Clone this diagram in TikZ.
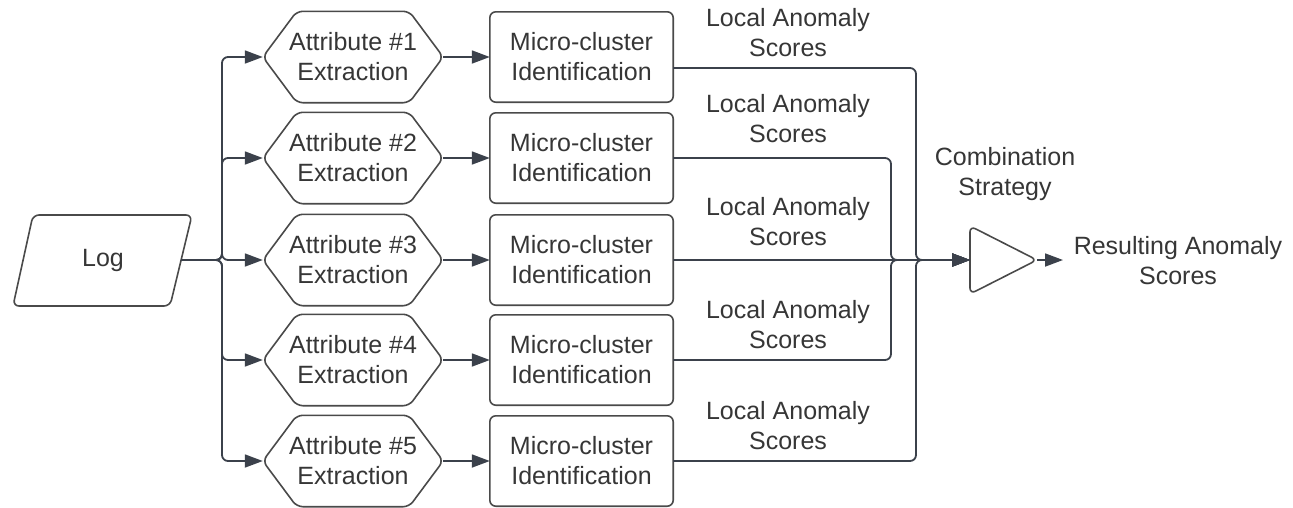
\documentclass[tikz,border=0pt]{standalone}
\usepackage{fontspec}
\setmainfont{Liberation Sans}
\usetikzlibrary{arrows.meta,calc}
\definecolor{linec}{HTML}{3B414B}
\definecolor{txtc}{HTML}{363636}
\definecolor{shapec}{HTML}{4A4A4A}
\tikzset{
  lbl/.style={font=\fontsize{25}{30}\selectfont, text=txtc, align=center, inner sep=0pt},
  shp/.style={draw=shapec, line width=1.6pt, rounded corners=6pt, line join=round},
  conn/.style={draw=linec, line width=1.8pt, rounded corners=6pt, -{Triangle[length=18pt,width=13pt]}},
  box/.style={lbl, minimum width=183pt, minimum height=90pt}
}
\begin{document}
\begin{tikzpicture}[x=1pt,y=-1pt]
\useasboundingbox (0,0) rectangle (1293,507);
% Log
\node[lbl, minimum width=150pt, minimum height=91pt] (log) at (103,260) {Log};
\draw[shp] (33,215) -- (192,215) -- (170,306) -- (13,306) -- cycle;
\coordinate (logE) at (181,260);
\coordinate (bx) at (222,260);
% rows
\foreach \i/\y in {1/57,2/158,3/260,4/360,5/461}{
  \node[box, minimum width=180pt, minimum height=91pt] (h\i) at (353,\y) {Attribute \#\i\\Extraction};
  \draw[shp] (h\i.west) -- ([xshift=34pt]h\i.north west) -- ([xshift=-34pt]h\i.north east)
     -- (h\i.east) -- ([xshift=-34pt]h\i.south east) -- ([xshift=34pt]h\i.south west) -- cycle;
  \node[box] (m\i) at (581.5,\y) {Micro-cluster\\Identification};
  \draw[shp] (m\i.north west) rectangle (m\i.south east);
  \draw[conn] (logE) -- (bx) |- (h\i.west);
  \draw[conn] (h\i.east) -- (m\i.west);
}
% labels
\foreach \y [count=\k] in {33,118.5,222,325,426}{
  \node[lbl] (la\k) at (788,\y) {Local Anomaly\\Scores};
}
% combination
\node[lbl] (comb) at (1005,174.5) {Combination\\Strategy};
\node[inner sep=0pt, minimum width=67pt, minimum height=67pt] (tri) at (1003.5,260) {};
\draw[shp] (970,226) -- (1037,260) -- (970,294) -- cycle;
\coordinate (triW) at (970,260);
\coordinate (triE) at (1037,260);
\node[lbl] (res) at (1178,261) {Resulting Anomaly\\Scores};
\coordinate (jA) at (916,260);
\coordinate (jB) at (891,260);
\coordinate (m1e) at ($(m1.east)+(0,11)$);
\draw[conn] (m1e) -| (jA) -- (triW);
\draw[conn] (m2.east) -| (jB) -- (triW);
\draw[conn] (m3.east) -- (triW);
\draw[conn] (m4.east) -| (jB) -- (triW);
\draw[conn] (m5.east) -| (jA) -- (triW);
\draw[conn] (triE) -- ($(triE)+(26,0)$) coordinate (resW);
\end{tikzpicture}
\end{document}
